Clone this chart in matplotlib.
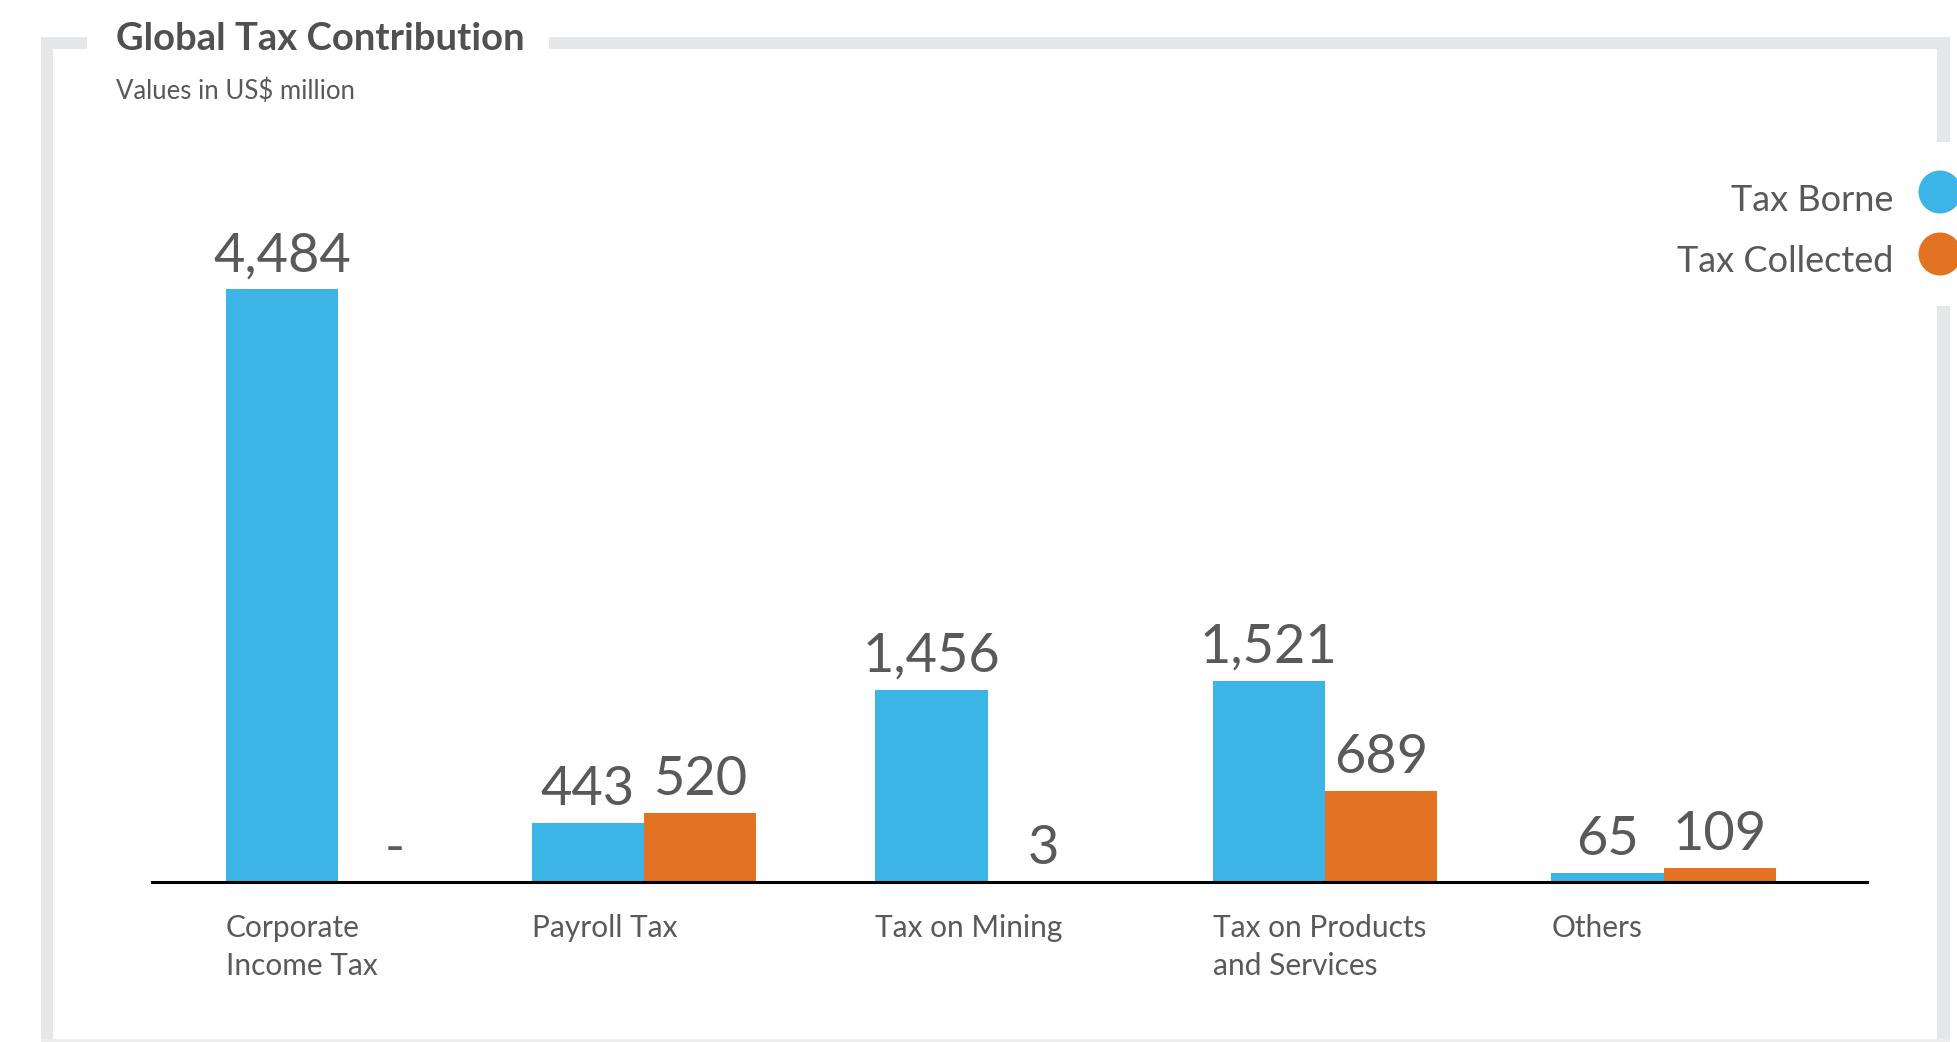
import matplotlib
matplotlib.use("Agg")
import matplotlib.pyplot as plt
from matplotlib.patches import Rectangle, Ellipse

# tax contribution by type, US$ million
categories = ["Corporate\nIncome Tax", "Payroll Tax", "Tax on Mining",
              "Tax on Products\nand Services", "Others"]
tax_borne = [4484, 443, 1456, 1521, 65]
tax_collected = [0, 520, 3, 689, 109]
series_names = ["Tax Borne", "Tax Collected"]

BLUE = "#3CB4E5"
ORANGE = "#E37222"
TEXT = "#58595B"
FRAME = "#E6E7E8"

W, H = 1958, 1042
plt.rcParams["font.family"] = ["Lato", "DejaVu Sans"]

fig = plt.figure(figsize=(W / 100, H / 100), dpi=100)


def fx(px):
    return px / W


def fy(py):
    return 1 - py / H


def frame_box(x0, y0, x1, y1, color=FRAME):
    fig.patches.append(Rectangle((fx(x0), fy(y1)), fx(x1) - fx(x0), fy(y0) - fy(y1),
                                 transform=fig.transFigure, color=color, lw=0, zorder=0))


# light grey frame, broken behind the title and the legend
frame_box(41, 37, 53, 1042)
frame_box(41, 37, 87, 49)
frame_box(549, 37, 1950, 49)
frame_box(1937, 37, 1950, 142)
frame_box(1937, 306, 1950, 1042)
frame_box(41, 1039, 1950, 1042, color="#EDEDEE")

fig.text(fx(116), fy(50), "Global Tax Contribution", fontsize=27.5, fontweight="bold",
         color="#505050", va="baseline", ha="left")
fig.text(fx(116), fy(99), "Values in US$ million", fontsize=18.5, color=TEXT,
         va="baseline", ha="left")

# legend on the right edge
for i, (name, col) in enumerate(zip(series_names, [BLUE, ORANGE])):
    fig.text(fx(1893), fy(211 + 61 * i), name, fontsize=26, color=TEXT,
             ha="right", va="baseline")
    fig.patches.append(Ellipse((fx(1940), fy(192 + 62 * i)), 43 / W, 43 / H,
                               transform=fig.transFigure, color=col, lw=0))

# bar area
left, right, base, top = 152, 1867, 882, 221
ax = fig.add_axes([fx(left), fy(base), fx(right) - fx(left), fy(top) - fy(base)])
group_x = [0.0, 0.907, 1.926, 2.926, 3.93]
bw = 0.333

bars_b = ax.bar([g - bw / 2 for g in group_x], tax_borne, width=bw, color=BLUE, lw=0)
bars_c = ax.bar([g + bw / 2 for g in group_x], tax_collected, width=bw, color=ORANGE, lw=0)

for bars, vals in [(bars_b, tax_borne), (bars_c, tax_collected)]:
    for b, v in zip(bars, vals):
        label = f"{v:,}" if v else "-"
        ax.annotate(label, (b.get_x() + b.get_width() / 2, v), xytext=(0, 13),
                    textcoords="offset points", ha="center", va="baseline",
                    fontsize=39, color=TEXT)

for g, cat in zip(group_x, categories):
    ax.text(g - bw, -0.048, cat, transform=ax.get_xaxis_transform(), ha="left", va="top",
            fontsize=21.5, color=TEXT, linespacing=1.45)

ax.set_xlim(-0.552, 4.533)
ax.set_ylim(0, 5000)
ax.axhline(0, color="black", lw=2.2, clip_on=False)
ax.set_xticks([])
ax.set_yticks([])
for s in ax.spines.values():
    s.set_visible(False)
ax.patch.set_visible(False)

fig.savefig("out.png", dpi=100)
